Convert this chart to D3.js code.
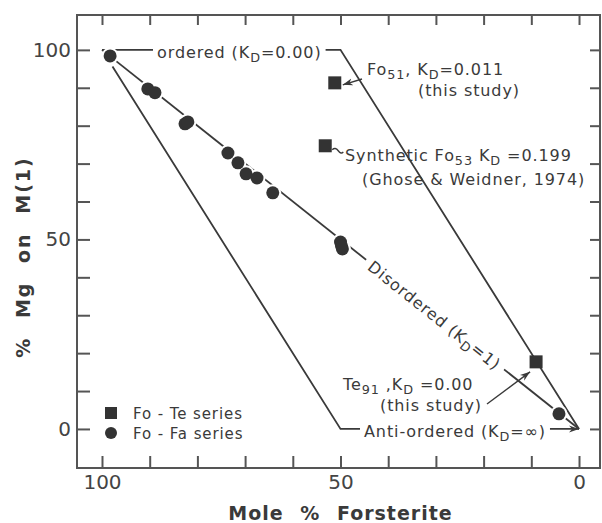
<!DOCTYPE html>
<html>
<head>
<meta charset="utf-8">
<script src="https://cdn.jsdelivr.net/npm/d3@7"></script>
<style>
    body { margin: 0; background: #fff; }
    svg { display: block; font-family: "DejaVu Sans", sans-serif; }
</style>
</head>
<body>
<script>
(function () {

    //Fo-Fa series (circles): mole % forsterite, % Mg on M(1)
    var foFaFo = [98.3, 90.4, 88.9, 82.6, 82.0, 73.6, 71.5, 69.8, 67.5, 64.2, 50.0, 49.6, 49.8, 4.2];
    var foFaMg = [98.4, 89.7, 88.7, 80.5, 81.0, 72.8, 70.2, 67.3, 66.2, 62.3, 49.3, 47.5, 48.3, 4.0];

    //Fo-Te series (squares): Fo51, synthetic Fo53, Te91
    var foTeFo = [51.2, 53.2, 9.0];
    var foTeMg = [91.3, 74.7, 17.7];

    //reference curves
    var orderedFo = [100, 50, 0],
        orderedMg = [100, 100, 0];
    var disorderedFo = [100, 0],
        disorderedMg = [100, 0];
    var antiFo = [97.8, 50, 0],
        antiMg = [95.6, 0, 0];

    //axes
    var tickValues = [0, 10, 20, 30, 40, 50, 60, 70, 80, 90, 100];
    var tickLabels = [0, 50, 100];

    var width = 602,
        height = 523;

    var frame = { left: 77, right: 600, top: 15, bottom: 468 };

    var ink = "#3a3a3a";

    var svg = d3.select("body")
        .append("svg")
        .attr("width", width)
        .attr("height", height);

    var x = d3.scaleLinear()
        .domain([105.24, -4.4])
        .range([frame.left, frame.right]);

    var y = d3.scaleLinear()
        .domain([-10.3, 109.2])
        .range([frame.bottom, frame.top]);

    //arrow head
    svg.append("defs").append("marker")
        .attr("id", "arrow")
        .attr("viewBox", "0 0 10 8")
        .attr("refX", 10)
        .attr("refY", 4)
        .attr("markerWidth", 10)
        .attr("markerHeight", 8)
        .attr("markerUnits", "userSpaceOnUse")
        .attr("orient", "auto")
        .append("path")
        .attr("d", "M0,0.5 L10,4 L0,7.5 L3,4 Z")
        .attr("fill", ink);

    var fmt = function (d) { return tickLabels.indexOf(d) >= 0 ? d : ""; };

    //axes with inward ticks on all four sides
    var bottomAxis = svg.append("g")
        .attr("transform", "translate(0," + frame.bottom + ")")
        .call(d3.axisBottom(x).tickValues(tickValues).tickSize(-12).tickPadding(7).tickFormat(fmt));

    var topAxis = svg.append("g")
        .attr("transform", "translate(0," + frame.top + ")")
        .call(d3.axisTop(x).tickValues(tickValues).tickSize(-10).tickFormat(""));

    var leftAxis = svg.append("g")
        .attr("transform", "translate(" + frame.left + ",0)")
        .call(d3.axisLeft(y).tickValues(tickValues).tickSize(-13).tickPadding(6).tickFormat(fmt));

    var rightAxis = svg.append("g")
        .attr("transform", "translate(" + frame.right + ",0)")
        .call(d3.axisRight(y).tickValues(tickValues).tickSize(-10).tickFormat(""));

    svg.selectAll(".domain").remove();
    svg.selectAll(".tick line")
        .attr("stroke", "#555")
        .attr("stroke-width", 2);
    svg.selectAll(".tick text")
        .attr("fill", "#444")
        .style("font-family", "DejaVu Sans, sans-serif")
        .style("font-size", "20px");

    //frame
    svg.append("rect")
        .attr("x", frame.left)
        .attr("y", frame.top)
        .attr("width", frame.right - frame.left)
        .attr("height", frame.bottom - frame.top)
        .attr("fill", "none")
        .attr("stroke", "#555")
        .attr("stroke-width", 2);

    //axis titles
    svg.append("text")
        .attr("x", x(50))
        .attr("y", 520)
        .attr("text-anchor", "middle")
        .attr("fill", ink)
        .style("font-size", "19px")
        .style("font-weight", "bold")
        .style("letter-spacing", "1px")
        .style("word-spacing", "9px")
        .text("Mole % Forsterite");

    svg.append("text")
        .attr("transform", "translate(30,257) rotate(-90)")
        .attr("text-anchor", "middle")
        .attr("fill", ink)
        .style("font-size", "19px")
        .style("font-weight", "bold")
        .style("letter-spacing", "2px")
        .style("word-spacing", "10px")
        .text("% Mg on M(1)");

    //reference curves
    var line = d3.line()
        .x(function (d) { return x(d[0]); })
        .y(function (d) { return y(d[1]); });

    function zip(a, b) {
        return a.map(function (v, i) { return [v, b[i]]; });
    }

    var curves = svg.append("g")
        .attr("fill", "none")
        .attr("stroke", ink)
        .attr("stroke-width", 1.8);

    curves.append("path").attr("d", line(zip(orderedFo, orderedMg)));
    curves.append("path").attr("d", line(zip(disorderedFo, disorderedMg)));
    curves.append("path")
        .attr("d", line(zip(antiFo, antiMg)))
        .attr("marker-end", "url(#arrow)");

    //text with subscripts; parts are strings or {t, sub}
    function addText(parent, px, py, parts, size, anchor) {
        var t = parent.append("text")
            .attr("x", px)
            .attr("y", py)
            .attr("fill", ink)
            .attr("text-anchor", anchor || "start")
            .style("font-size", size + "px")
            .style("letter-spacing", "0.9px");
        var shift = 0;
        parts.forEach(function (p) {
            var s = typeof p === "string" ? { t: p } : p;
            var target = s.sub ? size * 0.25 : 0;
            t.append("tspan")
                .attr("dy", target - shift)
                .style("font-size", s.sub ? (size * 0.8) + "px" : null)
                .text(s.t);
            shift = target;
        });
        return t;
    }

    //white box under a label to break the line it sits on
    function knockout(parent, t, pad) {
        var b = t.node().getBBox();
        parent.insert("rect", function () { return t.node(); })
            .attr("x", b.x - pad)
            .attr("y", b.y + 2)
            .attr("width", b.width + pad * 2)
            .attr("height", b.height - 2)
            .attr("fill", "#fff");
    }

    var notes = svg.append("g");

    var tOrd = addText(notes, 157, 58, ["ordered (K", { t: "D", sub: true }, "=0.00)"], 16);
    knockout(notes, tOrd, 4);

    var tAnti = addText(notes, 364, 437, ["Anti-ordered (K", { t: "D", sub: true }, "=\u221e)"], 16);
    knockout(notes, tAnti, 4);

    var angle = Math.atan2(y(0) - y(100), x(0) - x(100)) * 180 / Math.PI;
    var gDis = notes.append("g")
        .attr("transform", "translate(434,316) rotate(" + angle + ")");
    var tDis = addText(gDis, 0, 5, ["Disordered (K", { t: "D", sub: true }, "=1)"], 16, "middle");
    knockout(gDis, tDis, 6);

    addText(notes, 367, 75, ["Fo", { t: "51", sub: true }, ", K", { t: "D", sub: true }, "=0.011"], 16);
    addText(notes, 418, 96, ["(this study)"], 16);

    addText(notes, 345, 161, ["Synthetic Fo", { t: "53", sub: true }, "  K", { t: "D", sub: true }, " =0.199"], 16);
    addText(notes, 362, 185, ["(Ghose & Weidner, 1974)"], 16);

    addText(notes, 343, 390, ["Te", { t: "91", sub: true }, " ,K", { t: "D", sub: true }, " =0.00"], 16);
    addText(notes, 380, 411, ["(this study)"], 16);

    //leaders from labels to squares
    var leaders = svg.append("g")
        .attr("fill", "none")
        .attr("stroke", ink)
        .attr("stroke-width", 1.4);

    leaders.append("line")
        .attr("x1", 362).attr("y1", 79)
        .attr("x2", x(foTeFo[0]) + 8).attr("y2", y(foTeMg[0]) + 2)
        .attr("marker-end", "url(#arrow)");

    leaders.append("path")
        .attr("d", "M" + (x(foTeFo[1]) + 7) + "," + (y(foTeMg[1]) + 4) +
            " q3,-3 6,1 t5,1");

    leaders.append("line")
        .attr("x1", 487).attr("y1", 404)
        .attr("x2", x(foTeFo[2]) - 6).attr("y2", y(foTeMg[2]) + 10)
        .attr("marker-end", "url(#arrow)");

    //Fo-Fa series: white halo first, then the dots, so touching dots merge
    var foFa = zip(foFaFo, foFaMg);
    var dots = svg.append("g");
    dots.selectAll(".halo")
        .data(foFa)
        .enter()
        .append("circle")
        .attr("class", "halo")
        .attr("cx", function (d) { return x(d[0]); })
        .attr("cy", function (d) { return y(d[1]); })
        .attr("r", 8.5)
        .attr("fill", "#fff");
    dots.selectAll(".dot")
        .data(foFa)
        .enter()
        .append("circle")
        .attr("class", "dot")
        .attr("cx", function (d) { return x(d[0]); })
        .attr("cy", function (d) { return y(d[1]); })
        .attr("r", 6.5)
        .attr("fill", "#333");

    //Fo-Te series
    svg.append("g")
        .selectAll("rect")
        .data(zip(foTeFo, foTeMg))
        .enter()
        .append("rect")
        .attr("x", function (d) { return x(d[0]) - 6.5; })
        .attr("y", function (d) { return y(d[1]) - 6.5; })
        .attr("width", 13)
        .attr("height", 13)
        .attr("fill", "#333");

    //legend
    var legend = svg.append("g");
    legend.append("rect")
        .attr("x", 105).attr("y", 407)
        .attr("width", 12).attr("height", 12)
        .attr("fill", "#333");
    legend.append("circle")
        .attr("cx", 111).attr("cy", 433)
        .attr("r", 6)
        .attr("fill", "#333");
    addText(legend, 133, 419, ["Fo - Te  series"], 15);
    addText(legend, 133, 439, ["Fo - Fa  series"], 15);

})();
</script>
</body>
</html>
